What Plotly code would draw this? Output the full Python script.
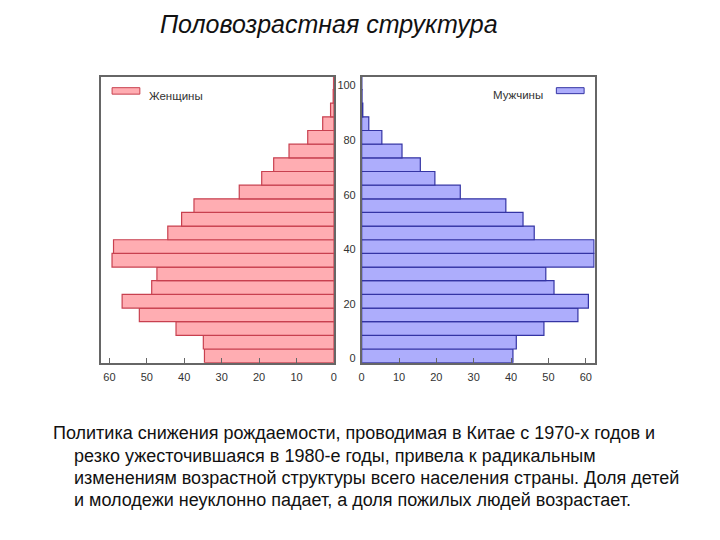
import plotly.graph_objects as go

# ---- data ----
age_groups = [0, 5, 10, 15, 20, 25, 30, 35, 40, 45, 50, 55, 60, 65, 70, 75, 80, 85, 90, 95, 100]
women = [34.6, 34.9, 42.2, 52.0, 56.6, 48.7, 47.3, 59.3, 58.9, 44.4, 40.7, 37.4, 25.3, 19.3, 16.1, 12.0, 7.0, 3.0, 0.9, 0.2, 0.1]
men = [40.5, 41.4, 48.8, 57.9, 60.7, 51.5, 49.3, 62.2, 62.2, 46.2, 43.2, 38.6, 26.4, 19.6, 15.7, 10.8, 5.4, 1.9, 0.3, 0.1, 0.05]
series_names = ["Женщины", "Мужчины"]
age_tick_labels = [0, 20, 40, 60, 80, 100]
x_ticks = [0, 10, 20, 30, 40, 50, 60]
title_text = "Половозрастная структура"
paragraph_lines = [
    "Политика снижения рождаемости, проводимая в Китае с 1970-х годов и",
    "резко ужесточившаяся в 1980-е годы, привела к радикальным",
    "изменениям возрастной структуры всего населения страны. Доля детей",
    "и молодежи неуклонно падает, а доля пожилых людей возрастает.",
]

W, H = 720, 540
FONT = "Liberation Sans, Arial, sans-serif"
pink_fill, pink_line = "#ffadb2", "#c8404f"
blue_fill, blue_line = "#adadfc", "#3434a4"

def px(x):
    return x / W

def py(y):
    return 1 - y / H

fig = go.Figure()
ycent = [a + 2.5 for a in age_groups]
fig.add_trace(go.Bar(
    x=women, y=ycent, orientation="h", width=5, name=series_names[0],
    marker=dict(color=pink_fill, line=dict(color=pink_line, width=1.2)),
    xaxis="x", yaxis="y", showlegend=False, hoverinfo="x+y"))
fig.add_trace(go.Bar(
    x=men, y=ycent, orientation="h", width=5, name=series_names[1],
    marker=dict(color=blue_fill, line=dict(color=blue_line, width=1.2)),
    xaxis="x2", yaxis="y2", showlegend=False, hoverinfo="x+y"))

frame = dict(showline=True, mirror=True, linecolor="#666666", linewidth=1.5,
             showgrid=False, zeroline=False)
ydom = [py(364), py(77)]
xcommon = dict(tickvals=x_ticks, ticks="inside", ticklen=5, tickcolor="#666666",
               ticklabelstandoff=3,
               tickfont=dict(size=11, color="#333333", family=FONT), **frame)

fig.update_layout(
    width=W, height=H, autosize=False,
    margin=dict(l=0, r=0, t=0, b=0),
    paper_bgcolor="white", plot_bgcolor="white",
    barmode="overlay",
    xaxis=dict(domain=[px(99), px(333.7)], range=[62.2, 0], anchor="y", **xcommon),
    yaxis=dict(domain=ydom, range=[0, 104.7], anchor="x", showticklabels=False,
               ticks="", **frame),
    xaxis2=dict(domain=[px(361.7), px(596.7)], range=[0, 62.4], anchor="y2", **xcommon),
    yaxis2=dict(domain=ydom, range=[0, 104.7], anchor="x2",
                tickvals=[a + 1.5 for a in age_tick_labels],
                ticktext=[str(a) for a in age_tick_labels],
                ticks="", ticklabelstandoff=2,
                tickfont=dict(size=11, color="#333333", family=FONT), **frame),
)

shapes = [
    dict(type="rect", xref="paper", yref="paper", x0=px(110), x1=px(138), y0=py(94.5), y1=py(88),
         fillcolor=pink_fill, line=dict(color=pink_line, width=1)),
    dict(type="rect", xref="paper", yref="paper", x0=px(558), x1=px(586), y0=py(94), y1=py(88),
         fillcolor=blue_fill, line=dict(color=blue_line, width=1)),
]
annotations = [
    dict(text=series_names[0], xref="paper", yref="paper", x=px(145), y=py(96.5),
         xanchor="left", yanchor="middle", showarrow=False,
         font=dict(size=11.5, color="#333333", family=FONT)),
    dict(text=series_names[1], xref="paper", yref="paper", x=px(547), y=py(95),
         xanchor="right", yanchor="middle", showarrow=False,
         font=dict(size=11.5, color="#333333", family=FONT)),
    dict(text="<i>" + title_text + "</i>", xref="paper", yref="paper", x=px(329), y=py(24),
         xanchor="center", yanchor="middle", showarrow=False,
         font=dict(size=25, color="#111111", family=FONT)),
]
line_x = [48, 69.7, 69.7, 69.7]
line_y = [435, 458, 480, 502]
for t, lx, ly in zip(paragraph_lines, line_x, line_y):
    annotations.append(dict(text=t, xref="paper", yref="paper", x=px(lx), y=py(ly),
                            xanchor="left", yanchor="middle", showarrow=False,
                            font=dict(size=18, color="#111111", family=FONT)))
fig.update_layout(shapes=shapes, annotations=annotations)

fig.write_html("out.html")
